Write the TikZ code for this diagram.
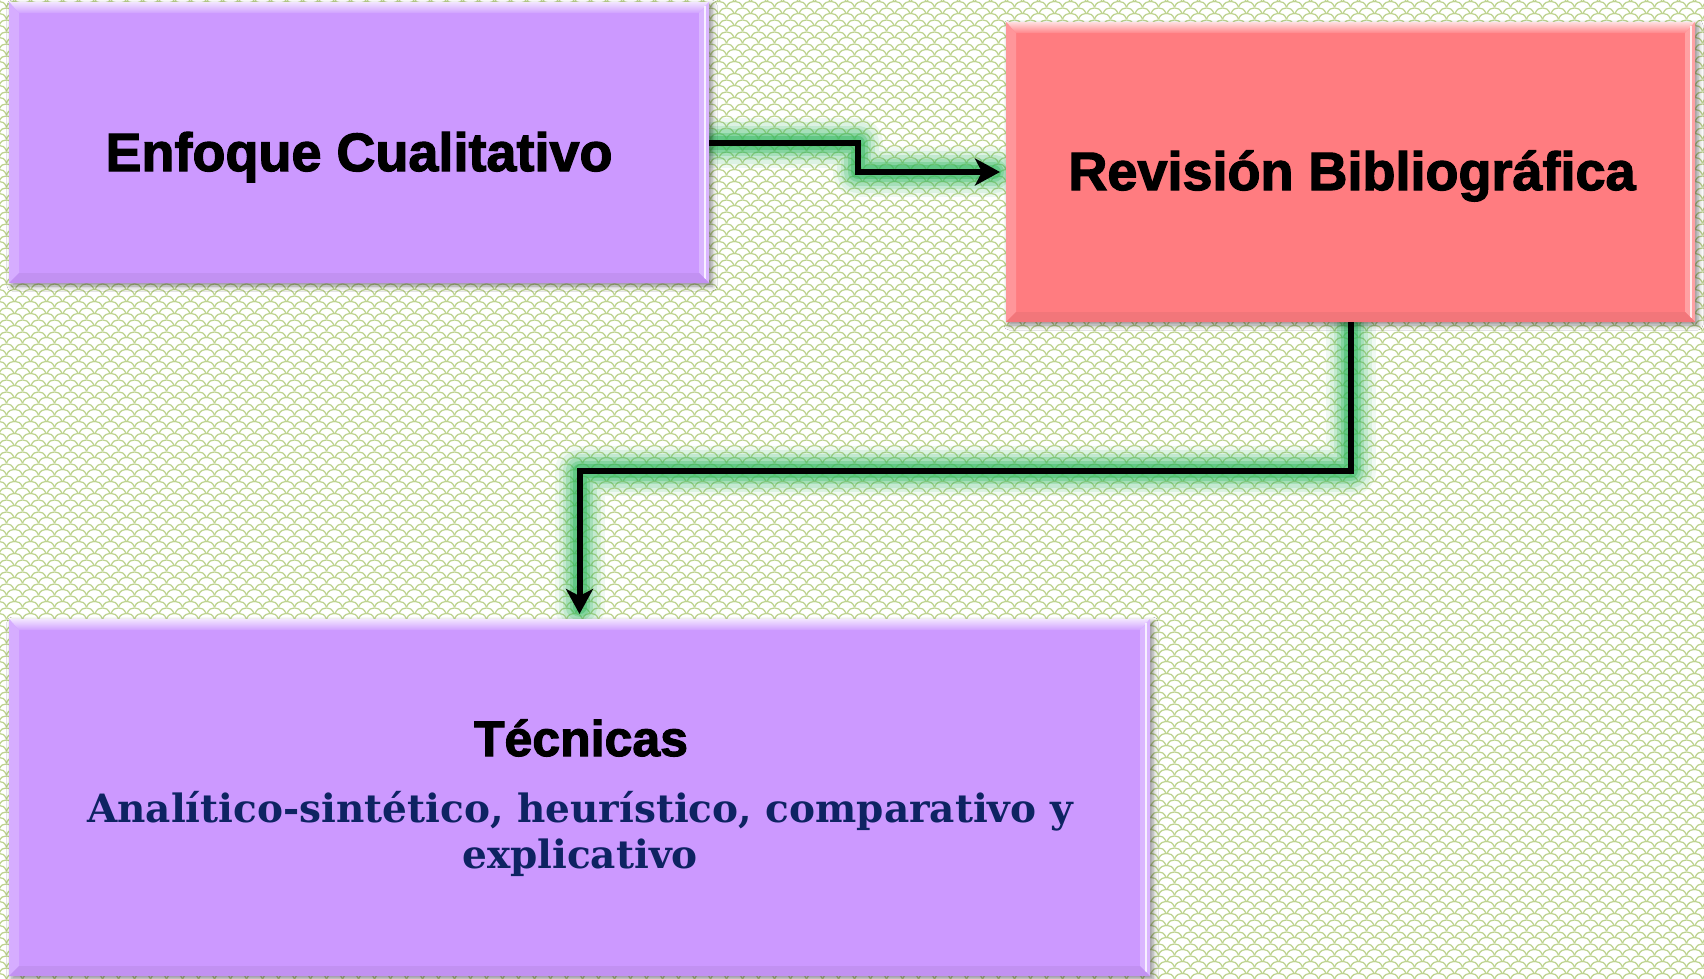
\documentclass[tikz,border=0pt]{standalone}
\usepackage{fontspec}
\usetikzlibrary{arrows.meta,patterns.meta,shadows.blur,calc}
\newfontfamily\headfont{Liberation Sans}[BoldFeatures={FakeBold=2.2}]
\newfontfamily\bodyfont{DejaVu Serif}
\definecolor{boxpurple}{HTML}{CC99FF}
\definecolor{boxred}{HTML}{FF7C80}
\definecolor{navytext}{HTML}{0E2362}
\definecolor{glowgreen}{HTML}{2FB85E}
\definecolor{patgreen}{HTML}{BDD38E}
\tikzdeclarepattern{
  name=officescales, type=uncolored,
  bottom left={(0pt,0pt)}, top right={(16pt,12pt)},
  tile size={(16pt,12pt)},
  code={
    \draw[line width=1.35pt] (0pt,6pt) .. controls (2pt,11pt) and (5pt,12pt) .. (8pt,12pt) .. controls (11pt,12pt) and (14pt,11pt) .. (16pt,6pt);
    \draw[line width=1.35pt] (-8pt,0pt) .. controls (-6pt,5pt) and (-3pt,6pt) .. (0pt,6pt) .. controls (3pt,6pt) and (6pt,5pt) .. (8pt,0pt);
    \draw[line width=1.35pt] (8pt,0pt) .. controls (10pt,5pt) and (13pt,6pt) .. (16pt,6pt) .. controls (19pt,6pt) and (22pt,5pt) .. (24pt,0pt);
  }
}
\newcommand\bevelbox[2]{%
  \shade[top color=#2!25!white, bottom color=#2!92!white]
    (#1.north west) -- (#1.north east) -- ([shift={(-10,11)}]#1.north east) -- ([shift={(10,11)}]#1.north west) -- cycle;
  \fill[#2!80!white]
    (#1.north west) -- ([shift={(10,11)}]#1.north west) -- ([shift={(10,-10)}]#1.south west) -- (#1.south west) -- cycle;
  \fill[#2!72!white]
    (#1.north east) -- ([shift={(-10,11)}]#1.north east) -- ([shift={(-10,-10)}]#1.south east) -- (#1.south east) -- cycle;
  \draw[white, line width=2pt, opacity=0.8] ([shift={(-4,4)}]#1.north east) -- ([shift={(-4,-4)}]#1.south east);
  \fill[#2!95!black]
    (#1.south west) -- ([shift={(10,-10)}]#1.south west) -- ([shift={(-10,-10)}]#1.south east) -- (#1.south east) -- cycle;
}
\newcommand\glowpath[1]{%
  \foreach \w/\o in {50/0.07,42/0.1,34/0.14,27/0.2,20/0.28,14/0.4}{%
    \draw[glowgreen, line width=\w pt, opacity=\o, line join=round, line cap=round] #1;}%
}
\begin{document}
\begin{tikzpicture}[x=1pt,y=-1pt,
  boxgeom/.style={rectangle, inner sep=0pt, outer sep=0pt},
  boxbase/.style={boxgeom,
    blur shadow={shadow xshift=3pt, shadow yshift=-3pt, shadow blur radius=5pt, shadow opacity=45}},
  headtxt/.style={font=\headfont\bfseries\fontsize{54}{60}\selectfont, text=black, inner sep=0pt, anchor=base},
  bodytxt/.style={font=\bodyfont\bfseries\fontsize{39}{46}\selectfont, text=navytext, inner sep=0pt, align=center, anchor=base},
  arrowline/.style={line width=6pt, line join=miter, -{Stealth[length=25pt,width=27pt,inset=7pt]}}]
\useasboundingbox (0,0) rectangle (1704,978);
\fill[white] (0,0) rectangle (1704,978);
\fill[pattern=officescales, pattern color=patgreen] (0,0) rectangle (1704,978);

% box outlines (named), used by the connectors
\node[boxgeom, minimum width=700pt, minimum height=281pt] (e) at (359,142.5) {};
\node[boxgeom, minimum width=689pt, minimum height=300pt] (r) at (1350.5,172) {};
\node[boxgeom, minimum width=1141pt, minimum height=357pt] (t) at (579.5,797.5) {};
\coordinate (m1) at ($(e.east)!0.5!(r.west)$);
\coordinate (m2) at ($(r.south)!0.5!(t.north)$);

% glow behind the connectors
\glowpath{(e.east) -| (m1) |- ([xshift=-12pt]r.west)}
\glowpath{(r.south) -- (r.south |- m2) -| ([yshift=12pt]t.north)}

% filled boxes
\node[boxbase, fill=boxpurple, minimum width=700pt, minimum height=281pt] (eb) at (e) {};
\node[boxbase, fill=boxred, minimum width=689pt, minimum height=300pt] (rb) at (r) {};
\node[boxbase, fill=boxpurple, minimum width=1141pt, minimum height=357pt] (tb) at (t) {};
\bevelbox{eb}{boxpurple}
\bevelbox{rb}{boxred}
\bevelbox{tb}{boxpurple}

\draw[arrowline, shorten >=6pt] (e.east) -| (m1) |- (r.west);
\draw[arrowline, shorten >=5pt] (r.south) -- (r.south |- m2) -| (t.north);

\node[headtxt] (et) at (359,171) {Enfoque Cualitativo};
\node[headtxt] (rt) at (1352,190) {Revisión Bibliográfica};
\node[headtxt, font=\headfont\bfseries\fontsize{50}{56}\selectfont] (tt) at (581,756) {Técnicas};
\node[bodytxt] (td) at (580,868) {Analítico-sintético, heurístico, comparativo y\\explicativo};
\end{tikzpicture}
\end{document}
